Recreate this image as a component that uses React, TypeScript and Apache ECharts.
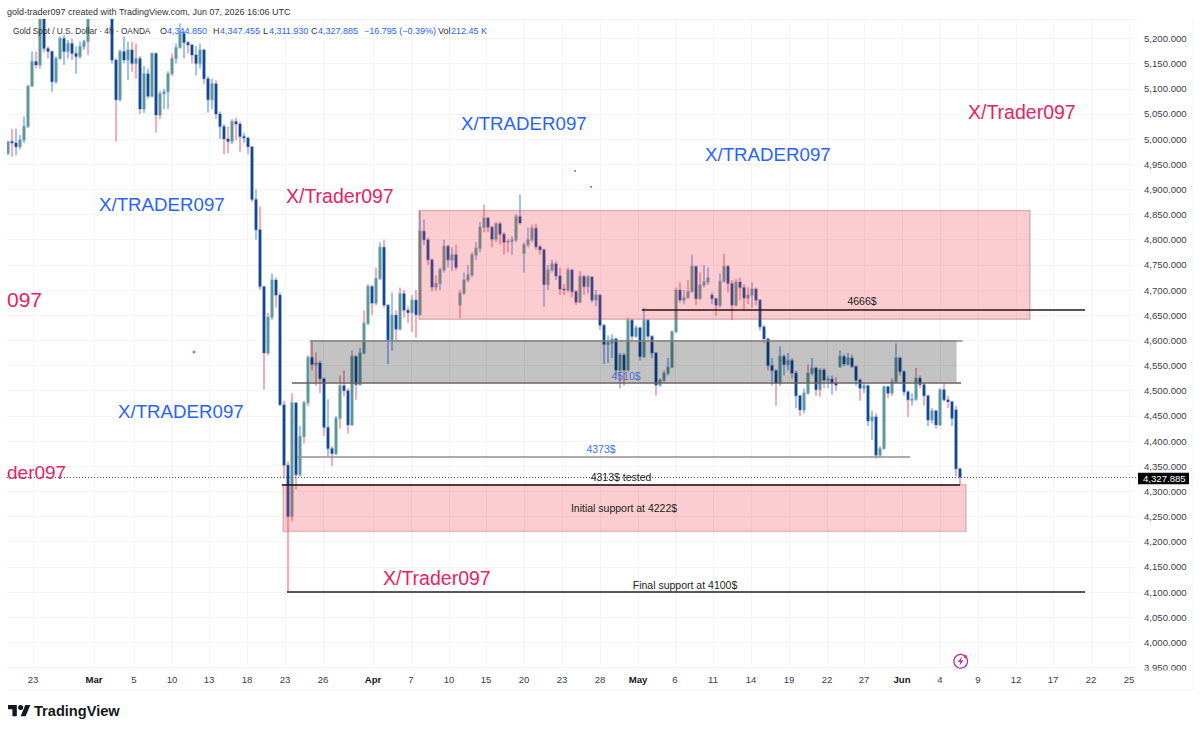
import React, { useEffect, useRef } from "react";
import * as echarts from "echarts";

// One slot is one candle position on the x axis.
const opens = [
  4972,4995,4992,4985,4998,5025,5105,5154,5147,5240,
  5180,5174,5114,5160,5200,5174,5190,5170,5164,5184,
  5194,5240,5263,5290,5302,5296,5276,5157,5078,5174,
  5157,5177,5150,5160,5060,5130,5085,5170,5048,5090,
  5094,5130,5160,5182,5210,5192,5187,5167,5150,5177,
  5120,5078,5110,5050,5025,5000,4995,5035,5030,5005,
  5002,4985,4880,4820,4707,4575,4646,4720,4690,4472,
  4352,4250,4476,4333,4409,4476,4566,4552,4555,4524,
  4427,4385,4375,4445,4510,4500,4432,4568,4512,4575,
  4634,4707,4674,4723,4785,4670,4601,4650,4622,4693,
  4660,4655,4680,4651,4817,4800,4760,4706,4713,4740,
  4787,4760,4770,4670,4694,4720,4730,4770,4783,4825,
  4843,4825,4801,4832,4811,4795,4797,4800,4846,4773,
  4790,4800,4823,4786,4780,4711,4740,4752,4728,4702,
  4700,4740,4697,4676,4727,4707,4726,4680,4690,4630,
  4592,4595,4603,4541,4571,4541,4640,4608,4625,4568,
  4640,4608,4575,4511,4521,4535,4547,4617,4700,4680,
  4685,4697,4747,4683,4710,4716,4690,4683,4670,4717,
  4747,4713,4670,4716,4705,4684,4690,4702,4680,4627,
  4603,4550,4540,4515,4568,4552,4560,4535,4490,4462,
  4495,4535,4545,4502,4541,4521,4523,4515,4548,4568,
  4553,4565,4548,4521,4505,4510,4440,4448,4372,4385,
  4508,4495,4518,4565,4538,4498,4482,4483,4525,4512,
  4490,4442,4460,4432,4502,4482,4478,4462,4344.85,
];
const closes = [
  4995,4992,4985,4998,5025,5105,5154,5147,5240,5180,
  5174,5114,5160,5200,5174,5190,5170,5164,5184,5194,
  5240,5263,5290,5302,5296,5276,5157,5078,5174,5157,
  5177,5150,5160,5060,5130,5085,5170,5048,5090,5094,
  5130,5160,5182,5210,5192,5187,5167,5150,5177,5120,
  5078,5110,5050,5025,5000,4995,5035,5030,5005,5002,
  4985,4880,4820,4707,4575,4646,4720,4690,4472,4352,
  4250,4476,4333,4409,4476,4566,4552,4555,4524,4427,
  4385,4375,4445,4510,4500,4432,4568,4512,4575,4634,
  4707,4674,4723,4785,4670,4601,4650,4622,4693,4660,
  4655,4680,4651,4817,4800,4760,4706,4713,4740,4787,
  4760,4770,4745,4694,4720,4730,4770,4783,4825,4843,
  4825,4801,4832,4811,4795,4797,4800,4846,4833,4790,
  4800,4823,4786,4780,4711,4740,4752,4728,4702,4700,
  4740,4697,4676,4727,4707,4726,4680,4690,4630,4592,
  4595,4603,4541,4571,4541,4640,4608,4625,4568,4640,
  4608,4575,4511,4521,4535,4547,4617,4700,4680,4685,
  4697,4747,4683,4710,4716,4724,4683,4670,4717,4747,
  4713,4670,4716,4705,4684,4690,4702,4680,4627,4603,
  4550,4540,4515,4568,4552,4560,4535,4490,4462,4495,
  4535,4545,4502,4541,4521,4523,4515,4511,4568,4553,
  4565,4548,4521,4505,4510,4440,4448,4372,4385,4508,
  4495,4518,4565,4538,4498,4482,4483,4525,4512,4490,
  4442,4460,4432,4502,4482,4478,4445,4344.85,4327.885,
];
const highs = [
  4995,5020,5021,5008,5045,5108,5174,5174,5250,5250,
  5184,5175,5164,5204,5207,5197,5200,5184,5194,5197,
  5250,5275,5305,5320,5310,5300,5282,5160,5178,5204,
  5194,5194,5190,5165,5145,5140,5172,5172,5096,5100,
  5135,5170,5190,5230,5215,5195,5190,5185,5190,5180,
  5125,5120,5117,5055,5030,5025,5040,5043,5035,5012,
  5005,4985,4900,4866,4707,4655,4733,4725,4695,4480,
  4360,4495,4476,4430,4480,4570,4598,4576,4560,4525,
  4483,4390,4450,4530,4540,4505,4580,4570,4585,4660,
  4712,4710,4745,4795,4800,4672,4695,4660,4705,4700,
  4668,4690,4700,4857,4840,4805,4762,4730,4745,4800,
  4790,4785,4790,4700,4735,4750,4775,4795,4835,4870,
  4845,4828,4835,4836,4815,4802,4807,4850,4890,4795,
  4825,4830,4832,4790,4782,4750,4760,4757,4745,4712,
  4745,4742,4700,4738,4730,4730,4728,4700,4692,4632,
  4610,4612,4605,4575,4575,4645,4643,4630,4627,4665,
  4642,4610,4577,4525,4540,4565,4620,4705,4715,4700,
  4720,4770,4748,4735,4750,4745,4695,4685,4733,4772,
  4750,4720,4722,4725,4712,4705,4715,4705,4682,4630,
  4605,4565,4542,4588,4572,4575,4565,4540,4492,4505,
  4552,4565,4548,4545,4545,4530,4530,4527,4580,4572,
  4575,4572,4550,4525,4515,4512,4460,4455,4390,4510,
  4510,4525,4594,4568,4540,4500,4495,4545,4530,4515,
  4492,4465,4462,4505,4515,4490,4480,4470,4347.455,
];
const lows = [
  4968,4965,4968,4980,4992,5022,5105,5140,5140,5172,
  5160,5094,5110,5158,5147,5160,5157,5130,5160,5177,
  5167,5238,5260,5285,5280,5262,5150,4995,5075,5150,
  5117,5134,5120,5050,5052,5080,5083,5013,5040,5060,
  5060,5125,5150,5180,5160,5170,5150,5127,5140,5110,
  5053,5060,5040,5000,4970,4972,4990,4998,4975,4992,
  4970,4875,4800,4700,4502,4570,4640,4665,4470,4325,
  4100,4240,4303,4330,4395,4470,4540,4510,4495,4410,
  4370,4350,4372,4425,4488,4415,4430,4482,4510,4572,
  4630,4650,4670,4720,4665,4553,4580,4600,4620,4645,
  4635,4616,4605,4650,4790,4750,4697,4698,4700,4735,
  4745,4738,4740,4644,4690,4715,4725,4760,4775,4815,
  4815,4785,4795,4790,4770,4775,4770,4795,4830,4735,
  4785,4795,4780,4770,4667,4700,4735,4720,4690,4690,
  4695,4685,4670,4675,4690,4693,4675,4668,4620,4553,
  4555,4565,4530,4505,4510,4538,4600,4605,4560,4565,
  4600,4565,4490,4508,4515,4530,4545,4615,4675,4672,
  4682,4695,4670,4680,4705,4710,4672,4648,4665,4715,
  4695,4640,4668,4680,4660,4672,4665,4670,4620,4595,
  4540,4510,4470,4510,4530,4540,4525,4465,4450,4455,
  4492,4530,4490,4488,4505,4505,4492,4500,4545,4548,
  4550,4545,4510,4480,4495,4430,4402,4365,4368,4383,
  4485,4490,4515,4530,4490,4448,4470,4480,4505,4470,
  4430,4435,4425,4430,4478,4465,4430,4330,4311.93,
];

const xTickSlots = [6.5,21.75,31.75,41.25,50.5,60,69.5,79,91.5,101,110.5,119.75,129.25,138.75,148.25,157.75,167,176.5,186,195.5,205,214.25,223.75,233.25,242.75,252.25,261.5,271,280.5];
const xTickLabels = ["23","Mar","5","10","13","18","23","26","Apr","7","10","15","20","23","28","May","6","11","14","19","22","27","Jun","4","9","12","17","22","25"];

// [slot from, slot to, price top, price bottom]
const resistanceZone = [103, 255.75, 4858, 4642];
const midZone = [75.75, 237.4, 4601, 4517];
const supportZone = [69, 239.75, 4313, 4220];
// [slot from, slot to, price]
const midTopLine = [75.75, 238.9, 4600];
const midBottomLine = [71.2, 238.5, 4515.5];
const line4373 = [72.5, 225.75, 4369];
const line4666 = [158.7, 269.5, 4661];
const line4313 = [68.75, 238.25, 4314];
const line4100 = [70, 269.5, 4100];
const lastPrice = 4327.885;
const stray = [[142, 4936.7], [146, 4905]];
const strayRed = [[46.75, 4577]];

const X_MIN = 0, X_MAX = 282.5, Y_MIN = 3950, Y_MAX = 5238.6;
const UI = '"Liberation Sans", sans-serif';

const BLUE = "#2962ff";
const RED = "#e91e63";

echarts.graphic.registerShape("tvLogo", echarts.graphic.extendPath(
  "M14 22H7V11H0V4h14v18zM28 22h-8l7.5-18h8L28 22z M24 8a4 4 0 1 1-8 0a4 4 0 0 1 8 0z", {}) as any);

const txt = (x: number, y: number, text: string, fill: string, size: number, extra: any = {}) => ({
  type: "text", x, y, z: 50, silent: true,
  style: { text, fill, font: `${extra.weight || "normal"} ${size}px ${UI}`, verticalAlign: "middle", align: extra.align || "left" },
});
const seg = (l: number[], color: string, width: number) => [
  { coord: [l[0], l[2]], lineStyle: { color, width, type: "solid" } },
  { coord: [l[1], l[2]] },
];
const zone = (r: number[], fill: string, border: string) => [
  { coord: [r[0], r[2]], itemStyle: { color: fill, borderColor: border, borderWidth: 1.5 } },
  { coord: [r[1], r[3]] },
];

export default function App() {
  const ref = useRef<HTMLDivElement>(null);
  useEffect(() => {
    const chart = echarts.init(ref.current!, undefined, { renderer: "svg" });
    const candles = closes.map((c, i) => [i + 0.25, opens[i], c, lows[i], highs[i]]);
    chart.setOption({
      animation: false,
      backgroundColor: "#ffffff",
      grid: { left: 7, right: 63, top: 19, bottom: 64.5, containLabel: false },
      xAxis: {
        type: "value", min: X_MIN, max: X_MAX,
        axisLine: { show: false }, axisTick: { show: false, customValues: xTickSlots },
        splitLine: { show: true, customValues: xTickSlots, lineStyle: { color: "#f3f4f6", width: 1 } },
        axisLabel: {
          customValues: xTickSlots, margin: 7, fontFamily: UI, fontSize: 9.6, color: "#3a3e4a",
          hideOverlap: false, showMinLabel: true, showMaxLabel: true,
          formatter: (v: number) => {
            const t = xTickLabels[xTickSlots.indexOf(v)] ?? "";
            return /[A-Z]/.test(t) ? `{b|${t}}` : t;
          },
          rich: { b: { fontFamily: UI, fontSize: 9.6, fontWeight: "bold", color: "#131722" } },
        },
      },
      yAxis: {
        type: "value", position: "right", min: Y_MIN, max: Y_MAX, interval: 50,
        axisLine: { show: false }, axisTick: { show: false },
        splitLine: { show: true, lineStyle: { color: "#f3f4f6", width: 1 } },
        axisLabel: {
          margin: 7, fontFamily: UI, fontSize: 9.6, color: "#3a3e4a", showMaxLabel: true,
          formatter: (v: number) => v % 50 !== 0 ? "" : v.toLocaleString("en-US", { minimumFractionDigits: 3 }),
        },
      },
      series: [
        {
          type: "custom", coordinateSystem: "cartesian2d", clip: true, silent: true, z: 2,
          data: candles,
          encode: { x: 0, y: [1, 2, 3, 4] },
          renderItem: (params: any, api: any) => {
            const i = params.dataIndex;
            const x = api.value(0);
            const o = api.value(1), c = api.value(2), l = api.value(3), h = api.value(4);
            const [px] = api.coord([x, o]);
            const yo = api.coord([x, o])[1], yc = api.coord([x, c])[1];
            const yl = api.coord([x, l])[1], yh = api.coord([x, h])[1];
            const down = c < o;
            const pink = down ? i % 3 !== 2 || i === 27 || i === 70 : i % 3 === 2;
            const wick = pink ? "#f2919d" : "#82abf3";
            const top = Math.min(yo, yc);
            const hgt = Math.max(1, Math.abs(yo - yc));
            return {
              type: "group",
              children: [
                { type: "line", shape: { x1: px, y1: yh, x2: px, y2: yl }, style: { stroke: wick, lineWidth: 1.5 } },
                { type: "rect", shape: { x: px - 2, y: top - 1, width: 4, height: hgt + 2 },
                  style: { fill: "rgba(120,165,240,0.38)" } },
                { type: "rect", shape: { x: px - 1.3, y: top, width: 2.6, height: hgt },
                  style: { fill: down ? "#15478f" : "#5f9a8a" } },
              ],
            };
          },
        },
        {
          type: "line", data: [], z: 3, silent: true,
          markArea: {
            silent: true, z: 3,
            data: [
              zone(resistanceZone, "rgba(242,54,69,0.25)", "rgba(150,90,95,0.35)"),
              zone(midZone, "rgba(0,0,0,0.24)", "rgba(242,54,69,0)"),
              zone(supportZone, "rgba(242,54,69,0.25)", "rgba(150,90,95,0.3)"),
            ],
          },
          markLine: {
            silent: true, symbol: "none", z: 4, label: { show: false },
            data: [
              seg(midTopLine, "#8a8080", 1.6),
              seg(midBottomLine, "#6a5c5c", 1.6),
              seg(line4373, "#919191", 1.6),
              seg(line4666, "#2a1416", 1.6),
              seg(line4313, "#1c0f10", 1.6),
              seg(line4100, "#222222", 1.6),
              { yAxis: lastPrice, lineStyle: { color: "#555", width: 1, type: [1, 2] } },
            ],
          },
        },
        { type: "scatter", data: stray, symbolSize: 2, z: 5, silent: true, itemStyle: { color: "#2962ff" } },
        { type: "scatter", data: strayRed, symbolSize: 3, z: 5, silent: true, itemStyle: { color: "#f23645" } },
      ],
      graphic: [
        txt(7, 12, "gold-trader097 created with TradingView.com, Jun 07, 2026 16:06 UTC", "#333333", 9),
        txt(13, 31, "Gold Spot / U.S. Dollar · 4h · OANDA", "#333333", 8.3),
        txt(160, 31, "O", "#333333", 9), txt(167, 31, "4,344.850", BLUE, 9),
        txt(213, 31, "H", "#333333", 9), txt(220, 31, "4,347.455", BLUE, 9),
        txt(263, 31, "L", "#333333", 9), txt(269, 31, "4,311.930", BLUE, 9),
        txt(311, 31, "C", "#333333", 9), txt(318, 31, "4,327.885", BLUE, 9),
        txt(364, 31, "−16.795 (−0.39%)", BLUE, 9),
        txt(438, 31, "Vol", "#333333", 9), txt(451, 31, "212.45 K", BLUE, 9),

        txt(461, 123, "X/TRADER097", BLUE, 18.7),
        txt(705, 154, "X/TRADER097", BLUE, 18.7),
        txt(99, 204, "X/TRADER097", BLUE, 18.7),
        txt(118, 411, "X/TRADER097", BLUE, 18.7),
        txt(968, 112, "X/Trader097", RED, 19.5),
        txt(286, 196, "X/Trader097", RED, 19.5),
        txt(383, 578, "X/Trader097", RED, 19.5),
        txt(7, 299, "097", RED, 21),
        txt(7, 472, "der097", RED, 19),

        txt(862, 301, "4666$", "#222", 10.5, { align: "center" }),
        txt(626, 376, "4510$", "#4a6fd0", 10.5, { align: "center" }),
        txt(601, 449, "4373$", "#3b74f0", 10.5, { align: "center" }),
        txt(621, 477, "4313$ tested", "#222", 10.5, { align: "center" }),
        txt(624, 508, "Initial support at 4222$", "#222", 10.5, { align: "center" }),
        txt(685, 585, "Final support at 4100$", "#222", 10.5, { align: "center" }),

        { type: "rect", z: 49, silent: true, shape: { x: 1138, y: 670.5, width: 54, height: 6 }, style: { fill: "#fff" } },
        { type: "rect", z: 50, silent: true, shape: { x: 1138, y: 472.7, width: 51, height: 11.5 }, style: { fill: "#000" } },
        txt(1143, 478.6, "4,327.885", "#fff", 9.6),

        { type: "line", z: 1, silent: true, shape: { x1: 7, y1: 690, x2: 1193, y2: 690 }, style: { stroke: "#f3f4f6", lineWidth: 1 } },
        { type: "line", z: 1, silent: true, shape: { x1: 1193, y1: 19, x2: 1193, y2: 690 }, style: { stroke: "#f3f4f6", lineWidth: 1 } },

        { type: "circle", z: 50, silent: true, shape: { cx: 960.7, cy: 661.3, r: 6.8 }, style: { fill: "none", stroke: "#a431b8", lineWidth: 1.3 } },
        { type: "polygon", z: 51, silent: true, shape: { points: [[962, 656.8], [957.8, 662], [960.4, 662], [959.4, 665.8], [963.6, 660.5], [961, 660.5]] }, style: { fill: "#a431b8" } },
        { type: "circle", z: 52, silent: true, shape: { cx: 965.4, cy: 656.6, r: 1.7 }, style: { fill: "#f23645" } },

        { type: "tvLogo", z: 50, silent: true, x: 8, y: 702.4, scaleX: 0.63, scaleY: 0.63, style: { fill: "#131722" } },
        txt(34, 711, "TradingView", "#131722", 14.6, { weight: "bold" }),
      ],
    });
    return () => chart.dispose();
  }, []);
  return <div ref={ref} style={{ position: "fixed", left: 0, top: 0, width: 1200, height: 732 }} />;
}
